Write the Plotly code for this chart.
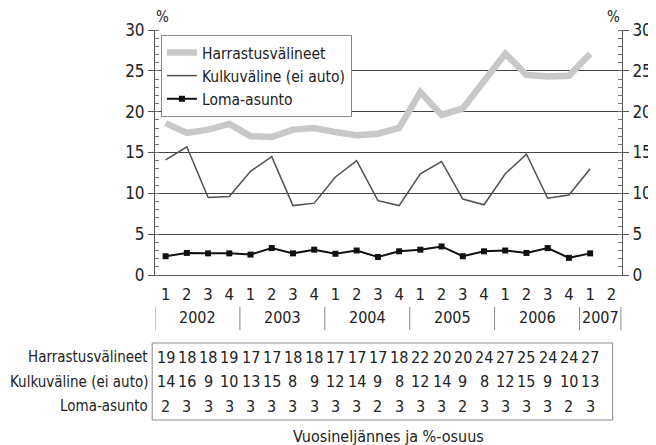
import plotly.graph_objects as go

quarters = ["1", "2", "3", "4"] * 5 + ["1", "2"]
years = ["2002", "2003", "2004", "2005", "2006", "2007"]
year_start = [0, 4, 8, 12, 16, 20]
year_len = [4, 4, 4, 4, 4, 2]

harrastus = [18.6, 17.4, 17.8, 18.5, 17.0, 16.9, 17.8, 18.0, 17.5, 17.1, 17.3,
             18.0, 22.4, 19.6, 20.4, 23.9, 27.1, 24.5, 24.3, 24.4, 27.1]
kulku = [14.1, 15.7, 9.5, 9.6, 12.7, 14.5, 8.5, 8.8, 12.0, 14.0, 9.1, 8.5,
         12.4, 13.9, 9.3, 8.6, 12.4, 14.8, 9.4, 9.8, 13.0]
loma = [2.3, 2.7, 2.65, 2.65, 2.5, 3.3, 2.65, 3.1, 2.6, 3.0, 2.2, 2.9, 3.1,
        3.5, 2.3, 2.9, 3.0, 2.7, 3.3, 2.1, 2.65]

table_harrastus = ["19", "18", "18", "19", "17", "17", "18", "18", "17", "17", "17",
                   "18", "22", "20", "20", "24", "27", "25", "24", "24", "27"]
table_kulku = ["14", "16", "9", "10", "13", "15", "8", "9", "12", "14", "9", "8",
               "12", "14", "9", "8", "12", "15", "9", "10", "13"]
table_loma = ["2", "3", "3", "3", "3", "3", "3", "3", "3", "3", "2", "3", "3",
              "3", "2", "3", "3", "3", "3", "2", "3"]

series_names = ["Harrastusvälineet", "Kulkuväline (ei auto)", "Loma-asunto"]
y_ticks = [0, 5, 10, 15, 20, 25, 30]

FONT = "DejaVu Sans Condensed, Roboto, sans-serif"
x = list(range(len(quarters)))
xd = x[:len(harrastus)]


def fnt(size):
    return dict(size=size, family=FONT, color="#222")


fig = go.Figure()
fig.add_trace(go.Scatter(x=xd, y=harrastus, name=series_names[0], mode="lines",
                         line=dict(color="#c8c8c8", width=6.5)))
fig.add_trace(go.Scatter(x=xd, y=kulku, name=series_names[1], mode="lines",
                         line=dict(color="#505050", width=1.5)))
fig.add_trace(go.Scatter(x=xd, y=loma, name=series_names[2], mode="lines+markers",
                         line=dict(color="#111111", width=2),
                         marker=dict(symbol="square", size=6, color="#111111")))
# invisible trace for right axis
fig.add_trace(go.Scatter(x=[xd[0]], y=[loma[0]], yaxis="y2", showlegend=False,
                         mode="markers", marker=dict(opacity=0), hoverinfo="skip"))

annotations = []
shapes = []

# year labels and separators
for yr, s, n in zip(years, year_start, year_len):
    annotations.append(dict(x=s + (n - 1) / 2, y=-0.1755, xref="x", yref="paper",
                            text=yr, showarrow=False, xanchor="center",
                            yanchor="middle", font=fnt(16)))
    shapes.append(dict(type="line", xref="x", yref="paper", x0=s - 0.5, x1=s - 0.5,
                       y0=-0.13, y1=-0.225, line=dict(color="#888", width=1)))
shapes.append(dict(type="line", xref="x", yref="paper",
                   x0=year_start[-1] + year_len[-1] - 0.55,
                   x1=year_start[-1] + year_len[-1] - 0.55,
                   y0=-0.13, y1=-0.225, line=dict(color="#888", width=1)))

# table
rows_y = [-0.3347, -0.4367, -0.5347]
for name, vals, ry in zip(series_names, [table_harrastus, table_kulku, table_loma], rows_y):
    annotations.append(dict(x=-0.011, y=ry, xref="paper", yref="paper", text=name,
                            xanchor="right", yanchor="middle", showarrow=False,
                            font=fnt(15)))
    for xi, v in zip(x, vals):
        annotations.append(dict(x=xi, y=ry, xref="x", yref="paper", text=v,
                                xanchor="center", yanchor="middle",
                                showarrow=False, font=fnt(16)))
shapes.append(dict(type="rect", xref="paper", yref="paper", x0=-0.006, x1=0.98,
                   y0=-0.2776, y1=-0.5918, line=dict(color="#888", width=1)))

annotations.append(dict(x=0.499, y=-0.661, xref="paper", yref="paper",
                        text="Vuosineljännes ja %-osuus", showarrow=False,
                        xanchor="center", yanchor="middle", font=fnt(16)))
annotations.append(dict(x=0.015, y=1.053, xref="paper", yref="paper", text="%",
                        showarrow=False, xanchor="center", yanchor="middle",
                        font=fnt(15)))
annotations.append(dict(x=0.981, y=1.053, xref="paper", yref="paper", text="%",
                        showarrow=False, xanchor="center", yanchor="middle",
                        font=fnt(15)))

axis_common = dict(range=[0, 30], tickvals=y_ticks, ticks="outside", ticklen=6,
                   tickcolor="#555", showline=True, linecolor="#555", linewidth=1,
                   minor=dict(ticks="inside", dtick=1, ticklen=4, tickcolor="#777",
                              showgrid=False),
                   tickfont=fnt(17), zeroline=False, fixedrange=True)

fig.update_layout(
    width=656, height=445,
    margin=dict(l=147, r=38, t=22, b=178),
    paper_bgcolor="white", plot_bgcolor="white",
    font=fnt(15),
    showlegend=True,
    legend=dict(x=0.0127, y=0.98, xanchor="left", yanchor="top",
                bgcolor="white", bordercolor="#888", borderwidth=1,
                font=fnt(15.5), tracegroupgap=0, itemwidth=30),
    xaxis=dict(range=[-0.5, len(quarters) - 0.5], tickvals=x, ticktext=quarters,
               showgrid=False, zeroline=False, showline=True, linecolor="#555",
               ticks="", tickfont=fnt(16.5), ticklabelstandoff=4, fixedrange=True),
    yaxis=dict(showgrid=True, gridcolor="#444", gridwidth=1.2, side="left", **axis_common),
    yaxis2=dict(overlaying="y", side="right", showgrid=False, **axis_common),
    annotations=annotations,
    shapes=shapes,
)

fig.write_html("out.html")
